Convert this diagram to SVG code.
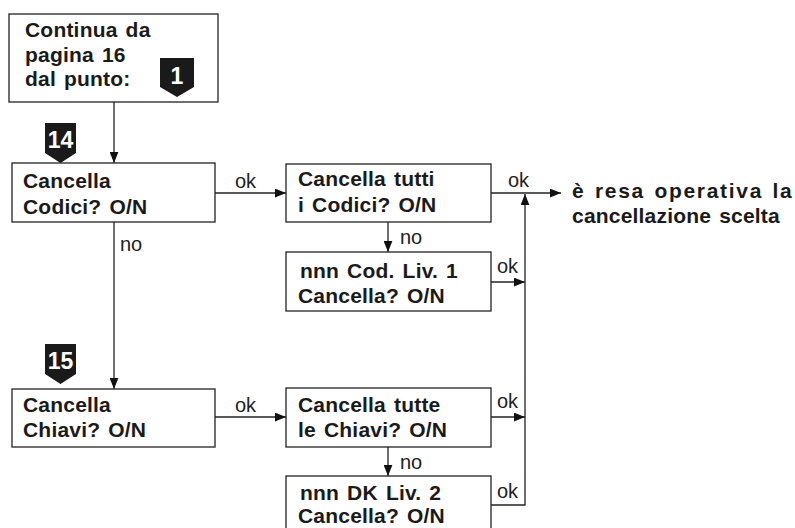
<svg xmlns="http://www.w3.org/2000/svg" width="795" height="528" viewBox="0 0 795 528">
<defs>
<marker id="ah" viewBox="0 0 10 8" refX="10" refY="4" markerWidth="11" markerHeight="9" markerUnits="userSpaceOnUse" orient="auto">
<path d="M0,0 L10,4 L0,8 Z" fill="#111"/>
</marker>
<style>
.box{fill:#fff;stroke:#222;stroke-width:1.3}
.t{font-family:"Liberation Sans",Arial,sans-serif;font-weight:bold;font-size:21px;letter-spacing:0.2px;word-spacing:2px;fill:#1a1a1a}
.l{font-family:"Liberation Sans",Arial,sans-serif;font-size:20px;fill:#222}
.c{fill:none;stroke:#222;stroke-width:1.3}
.b{fill:#1a1a1a}
.bn{font-family:"Liberation Sans",Arial,sans-serif;font-weight:bold;font-size:23px;fill:#fff;text-anchor:middle}
</style>
</defs>
<rect width="795" height="528" fill="#fff"/>
<g id="connectors">
<line class="c" x1="114" y1="102" x2="114" y2="163" marker-end="url(#ah)"/>
<line class="c" x1="114" y1="222" x2="114" y2="389" marker-end="url(#ah)"/>
<line class="c" x1="215" y1="193" x2="286" y2="193" marker-end="url(#ah)"/>
<line class="c" x1="215" y1="417" x2="286" y2="417" marker-end="url(#ah)"/>
<line class="c" x1="388" y1="222" x2="388" y2="252" marker-end="url(#ah)"/>
<line class="c" x1="388" y1="447" x2="388" y2="476" marker-end="url(#ah)"/>
<line class="c" x1="491" y1="193" x2="561" y2="193" marker-end="url(#ah)"/>
<line class="c" x1="491" y1="282" x2="525" y2="282" marker-end="url(#ah)"/>
<line class="c" x1="491" y1="417" x2="525" y2="417" marker-end="url(#ah)"/>
<polyline class="c" points="491,505 525,505 525,194" marker-end="url(#ah)"/>
<text class="l" x="235" y="188">ok</text>
<text class="l" x="235" y="412">ok</text>
<text class="l" x="120" y="251">no</text>
<text class="l" x="400" y="244">no</text>
<text class="l" x="400" y="469">no</text>
<text class="l" x="508" y="187">ok</text>
<text class="l" x="497" y="273">ok</text>
<text class="l" x="497" y="408">ok</text>
<text class="l" x="497" y="498">ok</text>
</g>
<g id="start">
<rect class="box" x="9" y="14" width="209" height="88"/>
<text class="t" x="25" y="37" word-spacing="9">Continua da</text>
<text class="t" x="25" y="62">pagina 16</text>
<text class="t" x="25" y="86">dal punto:</text>
<path class="b" d="M160,58 H194 V87 L177,97 L160,87 Z"/>
<text class="bn" x="177" y="84">1</text>
</g>
<g id="badge14">
<path class="b" d="M45,123 H76 V153 L60.5,163 L45,153 Z"/>
<text class="bn" x="60.5" y="148">14</text>
</g>
<g id="badge15">
<path class="b" d="M45,344 H76 V374 L60.5,384 L45,374 Z"/>
<text class="bn" x="60.5" y="369">15</text>
</g>
<g id="cancellaCodici">
<rect class="box" x="12" y="163" width="203" height="59"/>
<text class="t" x="23" y="188">Cancella</text>
<text class="t" x="23" y="214">Codici? O/N</text>
</g>
<g id="cancellaTuttiCodici">
<rect class="box" x="286" y="164" width="205" height="58"/>
<text class="t" x="298" y="186" word-spacing="7">Cancella tutti</text>
<text class="t" x="298" y="212">i Codici? O/N</text>
</g>
<g id="codLiv1">
<rect class="box" x="286" y="252" width="205" height="59"/>
<text class="t" x="300" y="278">nnn Cod. Liv. 1</text>
<text class="t" x="298" y="303">Cancella? O/N</text>
</g>
<g id="cancellaChiavi">
<rect class="box" x="12" y="389" width="203" height="58"/>
<text class="t" x="23" y="412">Cancella</text>
<text class="t" x="23" y="437">Chiavi? O/N</text>
</g>
<g id="cancellaTutteChiavi">
<rect class="box" x="286" y="388" width="205" height="59"/>
<text class="t" x="298" y="412" word-spacing="9">Cancella tutte</text>
<text class="t" x="298" y="437">le Chiavi? O/N</text>
</g>
<g id="dkLiv2">
<rect class="box" x="286" y="476" width="205" height="60"/>
<text class="t" x="300" y="500">nnn DK Liv. 2</text>
<text class="t" x="298" y="523">Cancella? O/N</text>
</g>
<g id="result">
<text class="t" x="572" y="198" textLength="220" lengthAdjust="spacing">è resa operativa la</text>
<text class="t" x="572" y="223">cancellazione scelta</text>
</g>
</svg>
